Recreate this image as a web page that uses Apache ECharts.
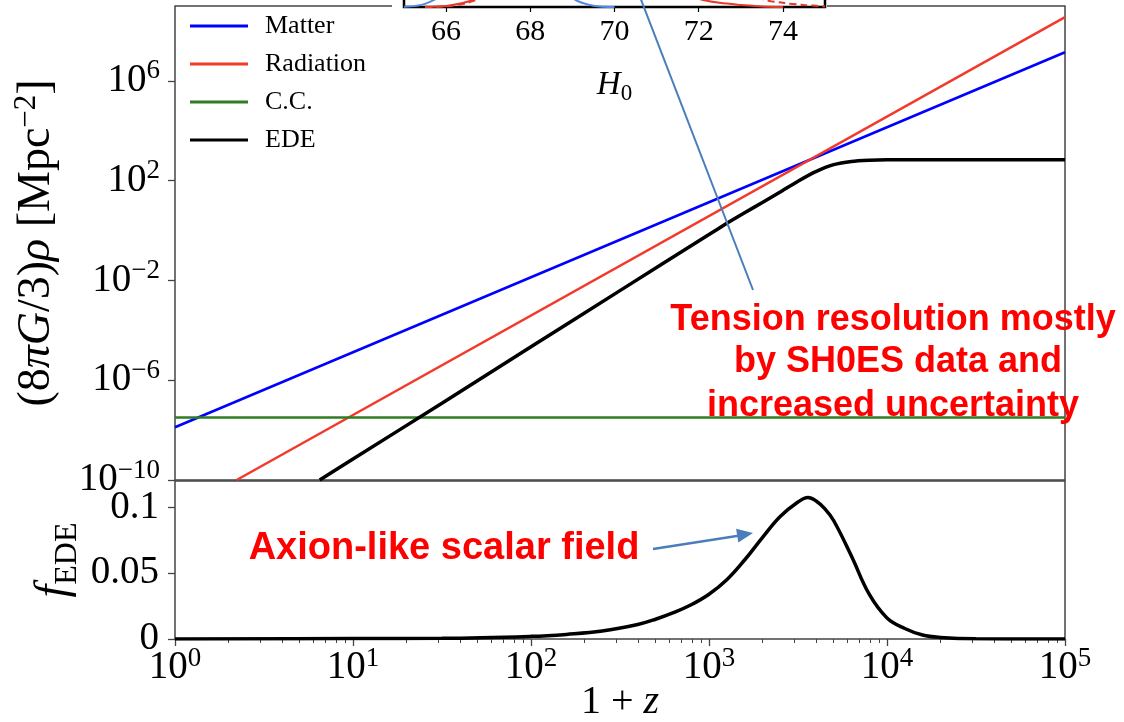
<!DOCTYPE html>
<html><head><meta charset="utf-8">
<script src="https://cdn.jsdelivr.net/npm/echarts@6/dist/echarts.min.js"></script>
<style>html,body{margin:0;padding:0;background:#fff}#c{width:1124px;height:722px}</style>
</head><body><div id="c"></div>
<script>
// ---------- data ----------
const matterX = [1, 1e5];
const matterY = [1.3e-8, 1.4e7];
const radiationX = [2.22, 1e5];
const radiationY = [1e-10, 3.6e8];
const ccX = [1, 1e5];
const ccY = [3.2e-8, 3.2e-8];
const edeX = [6.5, 10, 31.6, 100, 316, 1000, 1259, 1585, 1995, 2512, 3162, 3981, 5012, 6310, 7943, 10000, 100000];
const edeY = [1e-10, 6.9e-10, 1.2e-7, 2.2e-5, 3.9e-3, 0.69, 1.95, 5.2, 13.2, 35, 95, 230, 436, 590, 660, 690, 690];

const fX = [1, 10, 31.6, 100, 158, 251, 398, 501, 631, 794, 1000, 1259, 1585, 1995, 2512, 3162, 3600, 3981, 4467, 5012, 6310, 7943, 10000, 12589, 15849, 19953, 31623, 100000];
const fY = [0, 0.0003, 0.0005, 0.002, 0.0035, 0.006, 0.011, 0.015, 0.020, 0.026, 0.034, 0.045, 0.060, 0.077, 0.093, 0.104, 0.1075, 0.105, 0.099, 0.090, 0.063, 0.034, 0.016, 0.008, 0.003, 0.0012, 0.0002, 0];

// inset (H0 posteriors, only the lower tails are visible)
const insetBlueX = [65, 65.5, 66, 66.5, 67, 67.4, 68, 68.5, 69, 69.5, 70];
const insetBlueY = [0.001, 0.015, 0.08, 0.35, 0.8, 1.0, 0.62, 0.2, 0.045, 0.006, 0];
const insetRedX = [65.5, 66, 66.5, 67, 67.5, 68, 68.5, 69, 69.3, 69.5, 70, 70.5, 71, 71.5, 72, 72.5, 73, 73.5, 74];
const insetRedY = [0.001, 0.005, 0.025, 0.07, 0.2, 0.43, 0.72, 0.96, 1.0, 0.98, 0.78, 0.49, 0.24, 0.09, 0.04, 0.02, 0.01, 0.003, 0];
const insetRedDashX = [65.5, 66, 66.5, 67, 67.5, 68, 68.5, 69, 69.5, 70, 70.5, 71, 71.5, 72, 72.5, 73, 73.5, 74, 74.5, 75];
const insetRedDashY = [0, 0.003, 0.02, 0.06, 0.14, 0.28, 0.46, 0.66, 0.85, 0.98, 0.99, 0.88, 0.7, 0.48, 0.28, 0.12, 0.04, 0.02, 0.01, 0.003];
const shoesBand = [70.95, 75];

const xTicks = [1, 10, 100, 1000, 10000, 100000];
const rhoTicks = [1e-10, 1e-6, 1e-2, 1e2, 1e6];
const fTicks = [0, 0.05, 0.1];
const h0Ticks = [66, 68, 70, 72, 74];
const legendNames = ['Matter', 'Radiation', 'C.C.', 'EDE'];

// ---------- helpers ----------
const zip = (a, b) => a.map((v, i) => [v, b[i]]);
const serif = 'Liberation Serif';
const spine = '#444';
const expRich = {
  b: {fontFamily: serif, fontSize: 39, color: '#000', lineHeight: 46},
  s: {fontFamily: serif, fontSize: 27, color: '#000', verticalAlign: 'top', lineHeight: 30}
};
const expFmt = v => '{b|10}{s|' + String(Math.round(Math.log10(v))).replace('-', '\u2212') + '}';

const option = {
  animation: false,
  backgroundColor: '#fff',
  grid: [
    {left: 404, top: -200, width: 421, height: 207, show: true, backgroundColor: '#fff', borderColor: '#000', borderWidth: 2.5, z: 5, outerBoundsMode: 'none', containLabel: false},
    {left: 175, top: 6, width: 890, height: 474, show: true, borderColor: spine, borderWidth: 1.5, backgroundColor: 'transparent', outerBoundsMode: 'none', containLabel: false},
    {left: 175, top: 481, width: 890, height: 158, show: true, borderColor: spine, borderWidth: 1.5, backgroundColor: 'transparent', outerBoundsMode: 'none', containLabel: false}
  ],
  xAxis: [
    {gridIndex: 0, type: 'value', min: 65, max: 75, z: 6,
      axisLine: {show: false}, splitLine: {show: false},
      axisTick: {show: true, length: 5, customValues: h0Ticks, lineStyle: {color: '#000', width: 1.2}},
      axisLabel: {customValues: h0Ticks, margin: 10, fontFamily: serif, fontSize: 30, color: '#000'},
      name: '{i|H}{s|0}', nameLocation: 'middle', nameGap: 58, nameMoveOverlap: false,
      nameTextStyle: {rich: {
        i: {fontFamily: serif, fontStyle: 'italic', fontSize: 33, color: '#000', lineHeight: 40},
        s: {fontFamily: serif, fontSize: 23, color: '#000', verticalAlign: 'bottom', lineHeight: 22}
      }}
    },
    {gridIndex: 1, type: 'log', logBase: 10, min: 1, max: 1e5,
      axisLine: {show: false}, axisTick: {show: false}, axisLabel: {show: false}, splitLine: {show: false}},
    {gridIndex: 2, type: 'log', logBase: 10, min: 1, max: 1e5,
      axisLine: {show: false}, splitLine: {show: false},
      axisTick: {show: true, length: 7, lineStyle: {color: spine, width: 1.3}},
      minorTick: {show: true, splitNumber: 9, length: 4, lineStyle: {color: spine, width: 1}},
      axisLabel: {margin: 6, formatter: expFmt, rich: expRich},
      name: '{n|1 + }{i|z}', nameLocation: 'middle', nameGap: 43, nameMoveOverlap: false,
      nameTextStyle: {rich: {
        n: {fontFamily: serif, fontSize: 40, color: '#000'},
        i: {fontFamily: serif, fontStyle: 'italic', fontSize: 40, color: '#000'}
      }}
    }
  ],
  yAxis: [
    {gridIndex: 0, type: 'value', min: 0, max: 1, show: false},
    {gridIndex: 1, type: 'log', logBase: 10, min: 1e-10, max: 1e9,
      axisLine: {show: false}, splitLine: {show: false},
      axisTick: {show: true, length: 7, customValues: rhoTicks, lineStyle: {color: spine, width: 1.3}},
      axisLabel: {customValues: rhoTicks, margin: 15, formatter: expFmt, rich: expRich},
      name: '{p|(8}{i|\u03c0G}{p|/3)}{i|\u03c1}{p| [Mpc}{s|\u22122}{p|]}', nameLocation: 'middle', nameRotate: 90, nameGap: 112, nameMoveOverlap: false,
      nameTextStyle: {rich: {
        p: {fontFamily: serif, fontSize: 46, color: '#000', lineHeight: 52},
        i: {fontFamily: serif, fontStyle: 'italic', fontSize: 46, color: '#000', lineHeight: 52},
        s: {fontFamily: serif, fontSize: 31, color: '#000', verticalAlign: 'top', lineHeight: 32}
      }}
    },
    {gridIndex: 2, type: 'value', min: 0, max: 0.12,
      axisLine: {show: false}, splitLine: {show: false},
      axisTick: {show: true, length: 7, customValues: fTicks, lineStyle: {color: spine, width: 1.3}},
      axisLabel: {customValues: fTicks, margin: 16, fontFamily: serif, fontSize: 39, color: '#000',
        formatter: v => (v === 0 ? '0' : String(v))},
      name: '{i|f}{s|EDE}', nameLocation: 'middle', nameRotate: 90, nameGap: 91, nameMoveOverlap: false,
      nameTextStyle: {rich: {
        i: {fontFamily: serif, fontStyle: 'italic', fontSize: 46, color: '#000', lineHeight: 60},
        s: {fontFamily: serif, fontSize: 32, color: '#000', verticalAlign: 'bottom', lineHeight: 34}
      }}
    }
  ],
  legend: {
    data: legendNames, orient: 'vertical', left: 185, top: 8,
    icon: 'rect', itemWidth: 58, itemHeight: 3, itemGap: 12,
    textStyle: {fontFamily: serif, fontSize: 26, color: '#000', lineHeight: 26, padding: [0, 0, 0, 12]},
    backgroundColor: 'transparent'
  },
  series: [
    // inset
    {type: 'line', xAxisIndex: 0, yAxisIndex: 0, data: zip(insetBlueX, insetBlueY), symbol: 'none', smooth: 0.3, z: 6,
      lineStyle: {color: '#4f8be0', width: 2},
      markArea: {silent: true, itemStyle: {color: '#e9e9e9'}, data: [[{xAxis: shoesBand[0]}, {xAxis: shoesBand[1]}]]}},
    {type: 'line', xAxisIndex: 0, yAxisIndex: 0, data: zip(insetRedX, insetRedY), symbol: 'none', smooth: 0.3, z: 7,
      lineStyle: {color: '#e8382b', width: 2}},
    {type: 'line', xAxisIndex: 0, yAxisIndex: 0, data: zip(insetRedDashX, insetRedDashY), symbol: 'none', smooth: 0.3, z: 7,
      lineStyle: {color: '#e8382b', width: 2, type: [7, 4]}},
    // main panel
    {name: 'Matter', type: 'line', xAxisIndex: 1, yAxisIndex: 1, data: zip(matterX, matterY), symbol: 'none',
      lineStyle: {color: '#0000ff', width: 2.5}, itemStyle: {color: '#0000ff'}},
    {name: 'Radiation', type: 'line', xAxisIndex: 1, yAxisIndex: 1, data: zip(radiationX, radiationY), symbol: 'none',
      lineStyle: {color: '#f2392b', width: 2.5}, itemStyle: {color: '#f2392b'}},
    {name: 'C.C.', type: 'line', xAxisIndex: 1, yAxisIndex: 1, data: zip(ccX, ccY), symbol: 'none',
      lineStyle: {color: '#2f7d22', width: 2.5}, itemStyle: {color: '#2f7d22'}},
    {name: 'EDE', type: 'line', xAxisIndex: 1, yAxisIndex: 1, data: zip(edeX, edeY), symbol: 'none', smooth: 0.2,
      lineStyle: {color: '#000', width: 3.5}, itemStyle: {color: '#000'}},
    // lower panel
    {type: 'line', xAxisIndex: 2, yAxisIndex: 2, data: zip(fX, fY), symbol: 'none', smooth: 0.4,
      lineStyle: {color: '#000', width: 3.5}}
  ],
  graphic: [
    {type: 'rect', shape: {x: 392, y: 0, width: 435, height: 9}, style: {fill: '#fff'}, z: 4, silent: true},
    {type: 'line', shape: {x1: 640, y1: -3, x2: 753, y2: 290}, style: {stroke: '#4a7ebb', lineWidth: 2}, z: 20, silent: true},
    {type: 'line', shape: {x1: 653, y1: 549, x2: 740, y2: 535.5}, style: {stroke: '#4a7ebb', lineWidth: 2.5}, z: 20, silent: true},
    {type: 'polygon', shape: {points: [[753, 533], [738.3, 542.5], [736.1, 528.7]]}, style: {fill: '#4a7ebb'}, z: 20, silent: true},
    {type: 'text', x: 893, y: 320, z: 20, silent: true, style: {text: 'Tension resolution mostly', fill: '#ff0000',
      fontFamily: 'Liberation Sans', fontWeight: 'bold', fontSize: 36, align: 'center', verticalAlign: 'middle'}},
    {type: 'text', x: 898, y: 362, z: 20, silent: true, style: {text: 'by SH0ES data and', fill: '#ff0000',
      fontFamily: 'Liberation Sans', fontWeight: 'bold', fontSize: 36, align: 'center', verticalAlign: 'middle'}},
    {type: 'text', x: 893, y: 406, z: 20, silent: true, style: {text: 'increased uncertainty', fill: '#ff0000',
      fontFamily: 'Liberation Sans', fontWeight: 'bold', fontSize: 36, align: 'center', verticalAlign: 'middle'}},
    {type: 'text', x: 444, y: 549, z: 20, silent: true, style: {text: 'Axion-like scalar field', fill: '#ff0000',
      fontFamily: 'Liberation Sans', fontWeight: 'bold', fontSize: 38, align: 'center', verticalAlign: 'middle'}}
  ]
};

const chart = echarts.init(document.getElementById('c'), null, {renderer: 'canvas'});
chart.setOption(option);
</script>
</body></html>
